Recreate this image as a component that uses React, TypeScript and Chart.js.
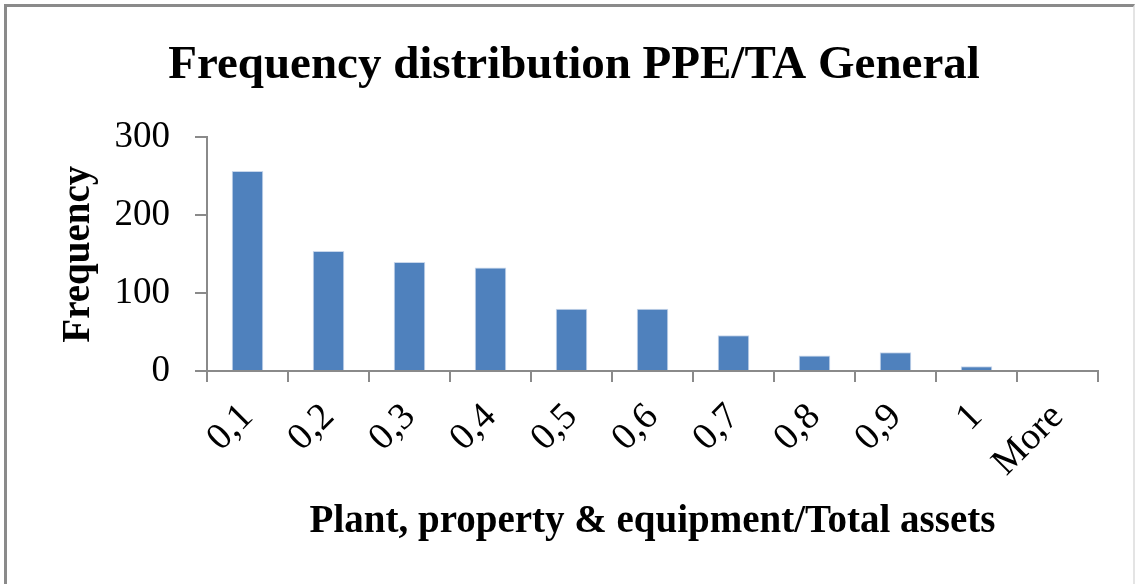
import React, { useEffect, useRef } from "react";
import { Chart, registerables } from "chart.js";

Chart.register(...registerables);

const categories = ["0,1", "0,2", "0,3", "0,4", "0,5", "0,6", "0,7", "0,8", "0,9", "1", "More"];
const frequencies = [257, 154, 140, 133, 80, 80, 46, 20, 24, 6, 0];
const yTicks = [0, 100, 200, 300];
const chartTitle = "Frequency distribution PPE/TA General";
const xTitle = "Plant, property & equipment/Total assets";
const yTitle = "Frequency";

const SERIF = "'Liberation Serif', 'Times New Roman', serif";
const AXIS_GRAY = "#8a8a8a";

export default function App() {
  const canvasRef = useRef<HTMLCanvasElement | null>(null);

  useEffect(() => {
    const canvas = canvasRef.current;
    if (!canvas) return;
    const chart = new Chart(canvas, {
      type: "bar",
      data: {
        labels: categories,
        datasets: [
          {
            label: "Frequency",
            data: frequencies,
            backgroundColor: "#4F81BD",
            borderColor: "#C9D7EB",
            borderWidth: 1,
            barPercentage: 0.39,
            categoryPercentage: 1,
          },
        ],
      },
      options: {
        animation: false,
        responsive: false,
        devicePixelRatio: 1,
        layout: { padding: { left: 50, right: 41, top: 0, bottom: 0 } },
        plugins: {
          legend: { display: false },
          tooltip: { enabled: false },
          title: {
            display: true,
            text: chartTitle,
            color: "#000",
            font: { family: SERIF, size: 47, weight: "bold" },
            padding: { top: 38, bottom: 43 },
          },
        },
        scales: {
          x: {
            type: "category",
            offset: true,
            border: { display: true, color: AXIS_GRAY, width: 2 },
            grid: {
              display: true,
              drawOnChartArea: false,
              drawTicks: true,
              tickLength: 11,
              color: AXIS_GRAY,
              lineWidth: 2,
              offset: true,
            },
            ticks: {
              color: "#000",
              font: { family: SERIF, size: 38 },
              minRotation: 45,
              maxRotation: 45,
              autoSkip: false,
              padding: 13,
            },
            title: {
              display: true,
              text: xTitle,
              color: "#000",
              font: { family: SERIF, size: 39, weight: "bold" },
              padding: { top: 0, bottom: 39 },
            },
            afterFit: (scale: any) => {
              scale.height = 213;
            },
          },
          y: {
            min: 0,
            max: 300,
            afterBuildTicks: (scale: any) => {
              scale.ticks = yTicks.map((v) => ({ value: v }));
            },
            border: { display: true, color: AXIS_GRAY, width: 2 },
            grid: {
              display: true,
              drawOnChartArea: false,
              drawTicks: true,
              tickLength: 12,
              color: AXIS_GRAY,
              lineWidth: 2,
            },
            ticks: {
              color: "#000",
              font: { family: SERIF, size: 37 },
              padding: 25,
            },
            title: {
              display: true,
              text: yTitle,
              color: "#000",
              font: { family: SERIF, size: 39, weight: "bold" },
              padding: { top: 6, bottom: 0 },
            },
            afterFit: (scale: any) => {
              scale.width = 157;
            },
          },
        },
      },
    } as any);
    return () => chart.destroy();
  }, []);

  return (
    <div style={{ position: "absolute", left: 0, top: 0, width: 1139, height: 584, background: "#fff" }}>
      <canvas ref={canvasRef} width={1139} height={584} style={{ position: "absolute", left: 0, top: 0 }} />
      <div
        style={{
          position: "absolute",
          left: 4,
          top: 4,
          width: 1131,
          height: 590,
          borderLeft: "3px solid #8a8a8a",
          borderTop: "3px solid #8a8a8a",
          borderRight: "2px solid #e4e4e4",
          boxSizing: "border-box",
          pointerEvents: "none",
        }}
      />
    </div>
  );
}
